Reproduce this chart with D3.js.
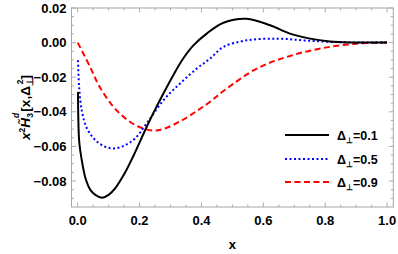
<!DOCTYPE html>
<html>
<head>
<meta charset="utf-8">
<script src="https://cdn.jsdelivr.net/npm/d3@7"></script>
<style>
  body { margin: 0; background: #fff; }
  svg { font-family: 'Liberation Sans', Arial, sans-serif; }
</style>
</head>
<body>
<script>
// valores
const xs_01 = [0.001, 0.002, 0.005, 0.014, 0.025, 0.041, 0.057, 0.0785, 0.1, 0.1215, 0.154, 0.18, 0.2175, 0.244, 0.277, 0.309, 0.341, 0.374, 0.417, 0.471, 0.546, 0.622, 0.686, 0.751, 0.815, 0.88, 0.94, 1.0];
const ys_01 = [-0.0285, -0.0436, -0.0573, -0.0688, -0.0782, -0.0851, -0.088, -0.0896, -0.088, -0.0841, -0.0748, -0.0655, -0.0508, -0.0409, -0.0294, -0.0188, -0.0092, -0.0016, 0.0052, 0.0115, 0.0138, 0.010, 0.0052, 0.0023, 0.0007, 0.0001, 0.0, 0.0];

const xs_05 = [0.001, 0.005, 0.014, 0.03, 0.057, 0.089, 0.1215, 0.154, 0.186, 0.223, 0.277, 0.331, 0.385, 0.428, 0.471, 0.546, 0.643, 0.729, 0.815, 0.9, 1.0];
const ys_05 = [-0.0102, -0.0265, -0.040, -0.0496, -0.0563, -0.0602, -0.0611, -0.0592, -0.0553, -0.0467, -0.0333, -0.0236, -0.015, -0.0092, -0.0025, 0.0013, 0.0023, 0.0013, 0.0004, 0.0001, 0.0];

const xs_09 = [0.0, 0.04, 0.068, 0.111, 0.154, 0.197, 0.244, 0.28, 0.331, 0.385, 0.428, 0.471, 0.579, 0.686, 0.794, 0.902, 1.0];
const ys_09 = [0.0, -0.014, -0.0246, -0.0361, -0.0438, -0.0486, -0.0508, -0.0497, -0.0455, -0.0395, -0.0342, -0.028, -0.015, -0.0077, -0.0031, -0.0006, 0.0];

const legendLabels = ['0.1', '0.5', '0.9'];
const xTicks = [0, 0.2, 0.4, 0.6, 0.8, 1.0];
const yTicks = [-0.08, -0.06, -0.04, -0.02, 0.0, 0.02];

const series = [
  {xs: xs_01, ys: ys_01, color: '#000000', dash: null, label: legendLabels[0]},
  {xs: xs_05, ys: ys_05, color: '#0000ff', dash: '2,2.5', label: legendLabels[1]},
  {xs: xs_09, ys: ys_09, color: '#ff0000', dash: '6,3.5', label: legendLabels[2]}
];

const W = 398, H = 254;
const mLeft = 71.5, mRight = 393.3, mTop = 8, mBottom = 207;

const svg = d3.select('body').append('svg')
  .attr('width', W)
  .attr('height', H);

const x = d3.scaleLinear().domain([-0.02, 1.02]).range([mLeft, mRight]);
const y = d3.scaleLinear().domain([-0.095, 0.02]).range([mBottom, mTop]);

// ticks menores
const xMinor = d3.range(0, 1.0001, 0.05);
const yMinor = d3.range(-0.09, 0.0201, 0.005);
const tickColor = '#999';

function isMajor(v, step) {
  return Math.abs(v / step - Math.round(v / step)) < 1e-6;
}

const ticks = svg.append('g').attr('stroke', tickColor).attr('stroke-width', 0.8);

xMinor.forEach(v => {
  const len = isMajor(v, 0.2) ? 4.5 : 2.5;
  ticks.append('line').attr('x1', x(v)).attr('x2', x(v)).attr('y1', mBottom).attr('y2', mBottom - len);
  ticks.append('line').attr('x1', x(v)).attr('x2', x(v)).attr('y1', mTop).attr('y2', mTop + len);
});
yMinor.forEach(v => {
  const len = isMajor(v, 0.02) ? 4.5 : 2.5;
  ticks.append('line').attr('y1', y(v)).attr('y2', y(v)).attr('x1', mLeft).attr('x2', mLeft + len);
  ticks.append('line').attr('y1', y(v)).attr('y2', y(v)).attr('x1', mRight).attr('x2', mRight - len);
});

svg.append('rect')
  .attr('x', mLeft).attr('y', mTop)
  .attr('width', mRight - mLeft).attr('height', mBottom - mTop)
  .attr('fill', 'none')
  .attr('stroke', '#a6a6a6')
  .attr('stroke-width', 1);

// rótulos dos eixos
svg.append('g').selectAll('text')
  .data(xTicks)
  .enter()
  .append('text')
  .attr('x', d => x(d))
  .attr('y', 225)
  .attr('text-anchor', 'middle')
  .attr('font-size', 13)
  .attr('font-weight', 'bold')
  .text(d => d3.format('.1f')(d));

svg.append('g').selectAll('text')
  .data(yTicks)
  .enter()
  .append('text')
  .attr('x', 66.5)
  .attr('y', d => y(d) + 4.6)
  .attr('text-anchor', 'end')
  .attr('font-size', 13)
  .attr('font-weight', 'bold')
  .text(d => d3.format('.2f')(d).replace('-', '\u2212'));

svg.append('text')
  .attr('x', (mLeft + mRight) / 2)
  .attr('y', 249)
  .attr('text-anchor', 'middle')
  .attr('font-size', 13)
  .attr('font-weight', 'bold')
  .text('x');

// rótulo y: x^2 H~_3^d [x, Δ⊥^2]
const ylab = svg.append('text')
  .attr('transform', 'translate(30,' + ((mTop + mBottom) / 2) + ') rotate(-90)')
  .attr('text-anchor', 'middle')
  .attr('font-size', 13.5)
  .attr('font-weight', 'bold');
ylab.append('tspan').attr('font-style', 'italic').text('x');
ylab.append('tspan').attr('font-size', 8.5).attr('dy', -5).text('2');
ylab.append('tspan').attr('dy', 5).attr('font-style', 'italic').text('H\u0303');
ylab.append('tspan').attr('font-size', 8.5).attr('font-style', 'italic').attr('dy', -11).attr('dx', 0).text('d');
ylab.append('tspan').attr('font-size', 8.5).attr('dy', 14).attr('dx', -5).text('3');
ylab.append('tspan').attr('dy', -3).attr('dx', 1.5).text('[x,\u0394');
ylab.append('tspan').attr('font-size', 8.5).attr('dy', 3).text('\u22a5');
ylab.append('tspan').attr('font-size', 8.5).attr('dy', -10).attr('dx', -6).text('2');
ylab.append('tspan').attr('dy', 7).text(']');

// curvas
const line = d3.line()
  .x(d => x(d[0]))
  .y(d => y(d[1]))
  .curve(d3.curveCatmullRom.alpha(0.5));

svg.append('g').selectAll('path')
  .data(series.slice().reverse())
  .enter()
  .append('path')
  .attr('d', s => line(d3.zip(s.xs, s.ys)))
  .attr('fill', 'none')
  .attr('stroke', s => s.color)
  .attr('stroke-width', 2)
  .attr('stroke-dasharray', s => s.dash);

// legenda
const legend = svg.append('g');
const rowY = [135, 159, 182];
series.forEach((s, i) => {
  legend.append('line')
    .attr('x1', 285).attr('x2', 329)
    .attr('y1', rowY[i]).attr('y2', rowY[i])
    .attr('stroke', s.color)
    .attr('stroke-width', 2)
    .attr('stroke-dasharray', s.dash);
  const t = legend.append('text')
    .attr('x', 337)
    .attr('y', rowY[i] + 4.5)
    .attr('font-size', 12.5)
    .attr('font-weight', 'bold');
  t.append('tspan').text('\u0394');
  t.append('tspan').attr('font-size', 8).attr('dy', 3).text('\u22a5');
  t.append('tspan').attr('dy', -3).text('=' + s.label);
});
</script>
</body>
</html>
